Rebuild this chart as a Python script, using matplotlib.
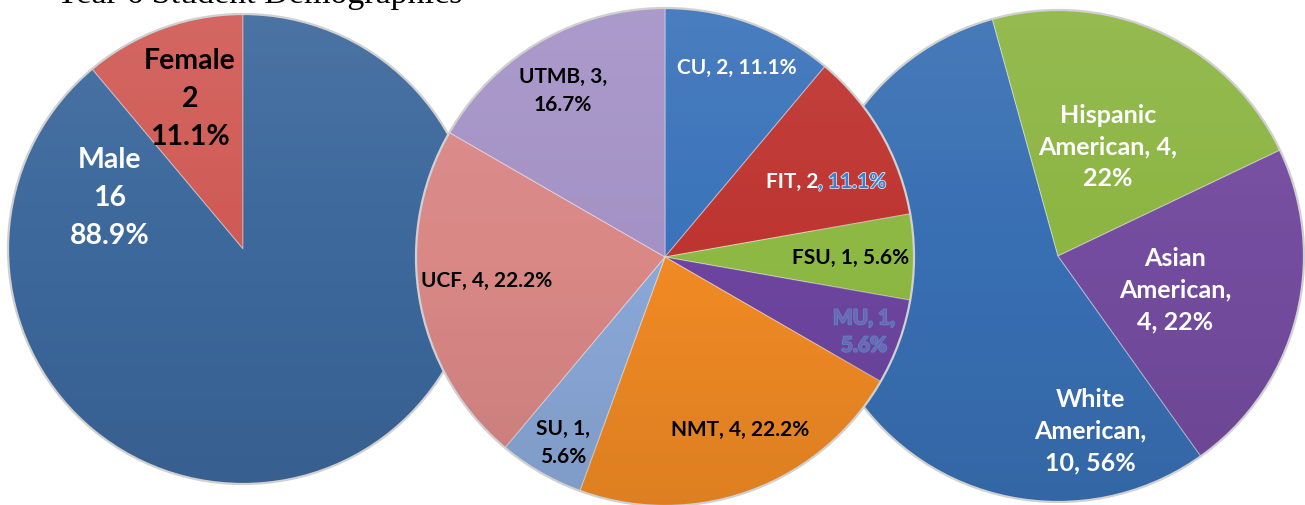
import numpy as np
import matplotlib.pyplot as plt
import matplotlib.patheffects as pe
from matplotlib.patches import Circle

# Gender (counter-clockwise from top)
gender_labels = ['Female', 'Male']
gender_counts = [2, 16]
gender_pct = ['11.1%', '88.9%']

# Universities (clockwise from top)
uni_labels = ['CU', 'FIT', 'FSU', 'MU', 'NMT', 'SU', 'UCF', 'UTMB']
uni_counts = [2, 2, 1, 1, 4, 1, 4, 3]
uni_pct = ['11.1%', '11.1%', '5.6%', '5.6%', '22.2%', '5.6%', '22.2%', '16.7%']

# Ethnicity (clockwise)
eth_labels = ['White American', 'Hispanic American', 'Asian American']
eth_counts = [10, 4, 4]
eth_pct = ['56%', '22%', '22%']

W, H = 1305, 505
fig = plt.figure(figsize=(W / 100, H / 100), dpi=100)
ax = fig.add_axes([0, 0, 1, 1])

FONT = 'Lato'


def py(y):
    # pixel row -> data y
    return H - y


def shade(cx, cy, r, z):
    # soft top-to-bottom light/dark overlay clipped to the pie disc
    g = np.linspace(0, 1, 256)[:, None, None]
    img = np.zeros((256, 2, 4))
    img[..., :3] = np.where(g < 0.5, 1.0, 0.0)
    img[..., 3] = (np.abs(g - 0.5) * 0.16)[..., 0]
    im = ax.imshow(img, extent=(cx - r, cx + r, cy - r, cy + r), origin='upper',
                   aspect='auto', zorder=z, interpolation='bilinear')
    clip = Circle((cx, cy), r, transform=ax.transData)
    im.set_clip_path(clip)
    ax.add_patch(Circle((cx, cy), r, fill=False, ec='#d0d0d0', lw=1.6, zorder=z + 0.01))


def draw_pie(values, colors, cx, cy, r, start, ccw, z):
    wedges, _ = ax.pie(values, colors=colors, startangle=start, counterclock=ccw,
                       center=(cx, py(cy)), radius=r,
                       wedgeprops=dict(edgecolor=(1, 1, 1, 0.35), linewidth=0.8))
    for w in wedges:
        w.set_zorder(z)
    shade(cx, py(cy), r, z + 0.2)


# left: gender
draw_pie(gender_counts, ['#d05a55', '#3c689c'], 243, 249, 235, 90, True, 1)
# right: ethnicity
draw_pie(eth_counts, ['#386fb3', '#8cb542', '#744c9f'], 1058, 256, 246, -54.5, False, 2)
# middle: universities (on top)
draw_pie(uni_counts, ['#3a73ba', '#be3430', '#8db843', '#6d45a0', '#f08a24',
                      '#8aa8d8', '#d98886', '#a492c6'], 665, 257, 249, 90, False, 3)

ax.set_xlim(0, W)
ax.set_ylim(0, H)
ax.set_aspect('equal')
ax.axis('off')

kw = dict(family=FONT, weight='bold', ha='center', va='center', zorder=10)

# gender labels
gsz = 20.5
ax.text(190, py(99), f'{gender_labels[0]}\n{gender_counts[0]}\n{gender_pct[0]}',
        color='black', fontsize=gsz, linespacing=1.56, **kw)
ax.text(110, py(198), f'{gender_labels[1]}\n{gender_counts[1]}\n{gender_pct[1]}',
        color='white', fontsize=gsz, linespacing=1.56, **kw)

# university labels
usz = 15
ax.text(737, py(68), f'{uni_labels[0]}, {uni_counts[0]}, {uni_pct[0]}', color='white', fontsize=usz, **kw)
ax.text(818, py(182), f'{uni_labels[1]}, {uni_counts[1]}', color='white', fontsize=usz,
        **{**kw, 'ha': 'right'})
ax.text(818, py(182), f', {uni_pct[1]}', color='#3f7fc8', fontsize=usz,
        path_effects=[pe.withStroke(linewidth=1.2, foreground='#d8e4f2')],
        **{**kw, 'ha': 'left'})
ax.text(851, py(258), f'{uni_labels[2]}, {uni_counts[2]}, {uni_pct[2]}', color='black', fontsize=usz, **kw)
ax.text(864, py(332), f'{uni_labels[3]}, {uni_counts[3]},\n{uni_pct[3]}', color='#7562b0', fontsize=usz,
        linespacing=1.45, path_effects=[pe.withStroke(linewidth=1.3, foreground='#5387c6')], **kw)
ax.text(740, py(430), f'{uni_labels[4]}, {uni_counts[4]}, {uni_pct[4]}', color='black', fontsize=usz, **kw)
ax.text(563, py(443), f'{uni_labels[5]}, {uni_counts[5]},\n{uni_pct[5]}', color='black', fontsize=usz,
        linespacing=1.45, **kw)
ax.text(487, py(281), f'{uni_labels[6]}, {uni_counts[6]}, {uni_pct[6]}', color='black', fontsize=usz, **kw)
ax.text(563, py(91), f'{uni_labels[7]}, {uni_counts[7]},\n{uni_pct[7]}', color='black', fontsize=usz,
        linespacing=1.45, **kw)

# ethnicity labels
esz = 18
first, second = eth_labels[1].split()
ax.text(1108, py(147), f'{first}\n{second}, {eth_counts[1]},\n{eth_pct[1]}', color='white',
        fontsize=esz, linespacing=1.45, **kw)
first, second = eth_labels[2].split()
ax.text(1175, py(290), f'{first}\n{second},\n{eth_counts[2]}, {eth_pct[2]}', color='white',
        fontsize=esz, linespacing=1.45, **kw)
first, second = eth_labels[0].split()
ax.text(1090, py(431), f'{first}\n{second},\n{eth_counts[0]}, {eth_pct[0]}', color='white',
        fontsize=esz, linespacing=1.45, **kw)

# title, cut off at the top edge as in the source
ax.text(55, py(3), 'Year 6 Student Demographics', family='Liberation Serif', fontsize=24.5,
        ha='left', va='baseline', color='black', zorder=10, clip_on=False)

fig.savefig('out.png', dpi=100)
